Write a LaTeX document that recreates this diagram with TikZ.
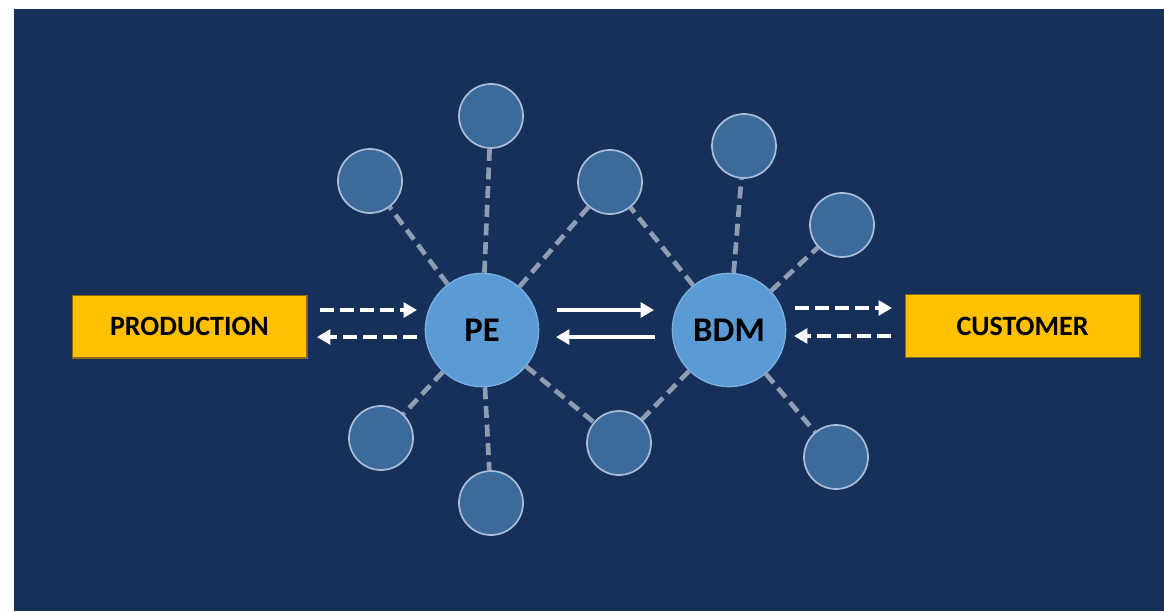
\documentclass[tikz,border=0pt]{standalone}
\usepackage{fontspec}
\setmainfont{Carlito}
\usetikzlibrary{arrows.meta}
\definecolor{navy}{HTML}{16305A}
\definecolor{hubblue}{HTML}{5B9BD5}
\definecolor{satblue}{HTML}{3C6A9B}
\definecolor{satrim}{HTML}{A9BDD8}
\definecolor{linkgray}{HTML}{8F9DB3}
\definecolor{gold}{HTML}{FFC000}
\definecolor{goldrim}{HTML}{8A6A10}

\begin{document}
\begin{tikzpicture}[x=0.75pt, y=-0.75pt,
    hub/.style={circle, fill=hubblue, draw=hubblue!80!white, line width=1pt, minimum size=85pt, inner sep=0pt, font=\bfseries\fontsize{26}{30}\selectfont},
    sat/.style={circle, fill=satblue, draw=satrim, line width=1.3pt, minimum size=48pt, inner sep=0pt},
    party/.style={rectangle, fill=gold, draw=goldrim, line width=1pt, minimum width=176pt, minimum height=47pt, font=\bfseries\fontsize{21}{24}\selectfont},
    link/.style={linkgray, line width=3.5pt, dash pattern=on 9pt off 5pt},
    flow/.style={white, line width=3pt, -{Triangle[length=10pt,width=11pt]}},
    dflow/.style={flow, dash pattern=on 10.5pt off 4.5pt}]
    \useasboundingbox (0,0) rectangle (1164,611);
    \fill[white] (0,0) rectangle (1164,611);
    \fill[navy] (14,9) rectangle (1164,611);
    % Outer parties
    \node[party] (prod) at (189.5,326.5) {PRODUCTION};
    \node[party] (cust) at (1022.5,326) {CUSTOMER};
    % Satellites
    \node[sat] (s1) at (370,181) {};
    \node[sat] (s2) at (491,116) {};
    \node[sat] (s3) at (610,182) {};
    \node[sat] (s4) at (744,146) {};
    \node[sat] (s5) at (842,225) {};
    \node[sat] (s6) at (381,438) {};
    \node[sat] (s7) at (491,503) {};
    \node[sat] (s8) at (619,443) {};
    \node[sat] (s9) at (836,457) {};
    % Hubs
    \node[hub] (pe) at (482,330) {PE};
    \node[hub] (bdm) at (729,330) {BDM};
    % Links
    \foreach \s in {s1,s2,s3,s6,s7,s8}
        \draw[link] (pe) -- (\s);
    \foreach \s in {s3,s4,s5,s8,s9}
        \draw[link] (bdm) -- (\s);
    % Flows
    \coordinate (a1) at (320,310);
    \coordinate (a2) at (417,310);
    \coordinate (a3) at (417,337);
    \coordinate (a4) at (317,337);
    \coordinate (b1) at (557,310);
    \coordinate (b2) at (654,310);
    \coordinate (b3) at (655,337);
    \coordinate (b4) at (556,337);
    \coordinate (c1) at (795,308);
    \coordinate (c2) at (892,308);
    \coordinate (c3) at (891,336);
    \coordinate (c4) at (794,336);
    \draw[dflow] (a1) -- (a2);
    \draw[dflow] (a3) -- (a4);
    \draw[flow] (b1) -- (b2);
    \draw[flow] (b3) -- (b4);
    \draw[dflow] (c1) -- (c2);
    \draw[dflow] (c3) -- (c4);
\end{tikzpicture}
\end{document}
